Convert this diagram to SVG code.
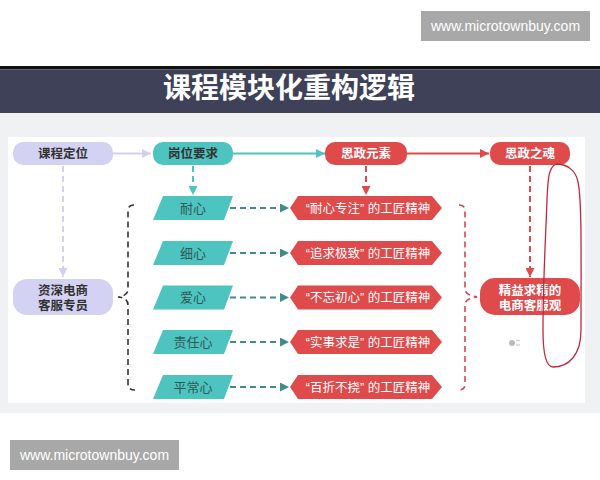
<svg xmlns="http://www.w3.org/2000/svg" width="600" height="480" viewBox="0 0 600 480">
<style>
.t{font-family:"Liberation Sans","Noto Sans CJK SC",sans-serif;text-anchor:middle}
.title{font-size:28px;font-weight:bold;fill:#fff}
.nl{font-size:12.5px;font-weight:bold;fill:#333}
.nw{font-size:12.5px;font-weight:bold;fill:#fff}
.pt{font-size:13px;fill:#2f5957}
.ht{font-size:12.5px;fill:#fff}
.wm{font-family:"Liberation Sans",sans-serif;font-size:14px;fill:#fff;text-anchor:middle}
.lav{fill:#d4d2f3}
.teal{fill:#4ec4c0}
.red{fill:#df4a4b}
.dash{stroke-dasharray:6 4;fill:none;stroke-width:2}
</style>
<defs>
<marker id="aLav" viewBox="0 0 10 10" refX="10" refY="5" markerWidth="9" markerHeight="9" markerUnits="userSpaceOnUse" orient="auto"><path d="M0,0L10,5L0,10z" fill="#d4d1ef"/></marker>
<marker id="aTeal" viewBox="0 0 10 10" refX="10" refY="5" markerWidth="9" markerHeight="9" markerUnits="userSpaceOnUse" orient="auto"><path d="M0,0L10,5L0,10z" fill="#4ec4c0"/></marker>
<marker id="aDk" viewBox="0 0 10 10" refX="10" refY="5" markerWidth="9" markerHeight="9" markerUnits="userSpaceOnUse" orient="auto"><path d="M0,0L10,5L0,10z" fill="#3f8c88"/></marker>
<marker id="aRed" viewBox="0 0 10 10" refX="10" refY="5" markerWidth="9" markerHeight="9" markerUnits="userSpaceOnUse" orient="auto"><path d="M0,0L10,5L0,10z" fill="#df4a4b"/></marker>
</defs>
<rect width="600" height="480" fill="#fff"/>
<!-- watermarks -->
<rect x="421" y="11" width="169" height="30" fill="#a8a8a8"/>
<text class="wm" x="505.5" y="31">www.microtownbuy.com</text>
<rect x="10" y="440" width="169" height="30" fill="#a8a8a8"/>
<text class="wm" x="94.5" y="460">www.microtownbuy.com</text>
<!-- title bar -->
<rect x="0" y="66" width="600" height="3.5" fill="#111"/>
<rect x="0" y="69.5" width="600" height="43.5" fill="#3e4157"/>
<text class="t title" x="289" y="98">课程模块化重构逻辑</text>
<!-- panel -->
<rect x="0" y="113" width="600" height="300" fill="#f0f1f3"/>
<rect x="8" y="137" width="577" height="266" fill="#fff"/>

<g id="connectors">
<path d="M113,153.5H151" stroke="#d4d1ef" stroke-width="2" marker-end="url(#aLav)"/>
<path d="M233,153.5H325" stroke="#4ec4c0" stroke-width="2" marker-end="url(#aTeal)"/>
<path d="M407,153.5H489" stroke="#df4a4b" stroke-width="2" marker-end="url(#aRed)"/>
<path class="dash" d="M63,166V277" stroke="#d4d1ef" marker-end="url(#aLav)"/>
<path class="dash" d="M193,166V195" stroke="#4ec4c0" marker-end="url(#aTeal)"/>
<path class="dash" d="M366,166V195" stroke="#df4a4b" marker-end="url(#aRed)"/>
<path class="dash" d="M530,166V277" stroke="#df4a4b" marker-end="url(#aRed)"/>
<path class="dash" d="M230,208H289" stroke="#3f8c88" marker-end="url(#aDk)"/>
<path class="dash" d="M230,253H289" stroke="#3f8c88" marker-end="url(#aDk)"/>
<path class="dash" d="M230,297.5H289" stroke="#3f8c88" marker-end="url(#aDk)"/>
<path class="dash" d="M230,342H289" stroke="#3f8c88" marker-end="url(#aDk)"/>
<path class="dash" d="M230,387H289" stroke="#3f8c88" marker-end="url(#aDk)"/>
<path d="M134,205q-6,0 -6,6V289q0,7 -10,8q10,1 10,8V384q0,6 7,6" fill="none" stroke="#333" stroke-width="1.6" stroke-dasharray="6 4"/>
<path d="M459,205q6,0 6,6V289q0,6 12,8q-12,1 -12,8V384q0,6 -6,6" fill="none" stroke="#d9474a" stroke-width="1.6" stroke-dasharray="6 4"/>
</g>

<g id="n-kcdw"><rect class="lav" x="13" y="142" width="100" height="23" rx="10"/><text class="t nl" x="63" y="158">课程定位</text></g>
<g id="n-gwyq"><rect class="teal" x="153" y="142" width="80" height="23" rx="10"/><text class="t nl" x="193" y="158">岗位要求</text></g>
<g id="n-szys"><rect class="red" x="325" y="142" width="82" height="23" rx="10"/><text class="t nw" x="366" y="158">思政元素</text></g>
<g id="n-szzh"><rect class="red" x="490" y="142" width="80" height="23" rx="10"/><text class="t nw" x="530" y="158">思政之魂</text></g>
<g id="n-zsdk"><rect class="lav" x="13" y="279" width="100" height="36" rx="14"/><text class="t nl" x="63" y="295">资深电商</text><text class="t nl" x="63" y="310">客服专员</text></g>
<g id="n-jyqj"><rect class="red" x="480" y="278" width="100" height="37" rx="15"/><text class="t nw" x="530" y="295">精益求精的</text><text class="t nw" x="530" y="310">电商客服观</text></g>

<g id="p-nx"><path class="teal" d="M163,196H233L224,220H153Z"/><text class="t pt" x="193" y="212.5">耐心</text></g>
<g id="p-xx"><path class="teal" d="M163,241H233L224,265H153Z"/><text class="t pt" x="193" y="257.5">细心</text></g>
<g id="p-ax"><path class="teal" d="M163,285.5H233L224,309.5H153Z"/><text class="t pt" x="193" y="302">爱心</text></g>
<g id="p-zrx"><path class="teal" d="M163,330H233L224,354H153Z"/><text class="t pt" x="193" y="346.5">责任心</text></g>
<g id="p-pcx"><path class="teal" d="M163,375H233L224,399H153Z"/><text class="t pt" x="193" y="391.5">平常心</text></g>

<g id="h-1"><path class="red" d="M290,208L298,196H432L442,208L432,220H298Z"/><text class="t ht" x="368" y="212.5">“耐心专注” 的工匠精神</text></g>
<g id="h-2"><path class="red" d="M290,253L298,241H432L442,253L432,265H298Z"/><text class="t ht" x="368" y="257.5">“追求极致” 的工匠精神</text></g>
<g id="h-3"><path class="red" d="M290,297.5L298,285.5H432L442,297.5L432,309.5H298Z"/><text class="t ht" x="368" y="302">“不忘初心” 的工匠精神</text></g>
<g id="h-4"><path class="red" d="M290,342L298,330H432L442,342L432,354H298Z"/><text class="t ht" x="368" y="346.5">“实事求是” 的工匠精神</text></g>
<g id="h-5"><path class="red" d="M290,387L298,375H432L442,387L432,399H298Z"/><text class="t ht" x="368" y="391.5">“百折不挠” 的工匠精神</text></g>

<!-- hand-drawn annotation loop -->
<path d="M556,164C568,164 576,171 578,182C582,200 581,260 581,330C581,356 568,367 553,367C545,367 543,350 543,330C543,280 546,230 547,200C548,180 548,168 556,164" fill="none" stroke="#c0283c" stroke-width="1.3"/>
<!-- tiny icon -->
<g fill="#bbb"><circle cx="512" cy="343" r="3"/><circle cx="517" cy="340.5" r="0.8"/><circle cx="519" cy="340.5" r="0.8"/><circle cx="517" cy="345" r="0.8"/><circle cx="519" cy="345" r="0.8"/></g>
</svg>
